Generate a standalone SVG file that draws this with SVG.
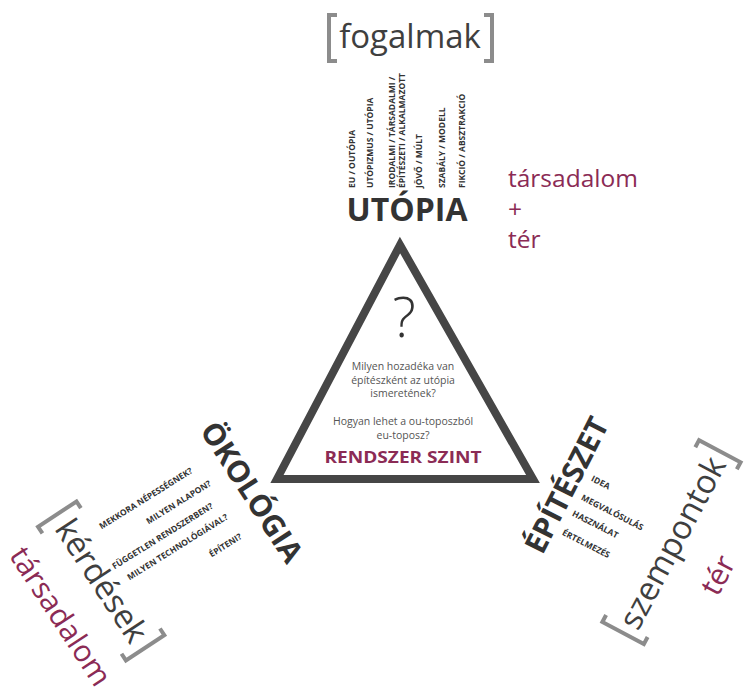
<svg xmlns="http://www.w3.org/2000/svg" width="750" height="692" viewBox="0 0 750 692">
<style>
text{font-family:"Open Sans","Liberation Sans",sans-serif;}
.big{font-size:33px;fill:#3f3f3f;}
.head{font-weight:bold;fill:#333;}
.small{font-size:8.5px;font-weight:bold;fill:#333;}
.maroon{fill:#8b2b55;}
.br{fill:none;stroke:#8c8c8c;stroke-width:4;}
.tri{fill:#fff;stroke:#464646;stroke-width:8;stroke-linejoin:miter;}
.q{font-size:10.5px;fill:#555;text-anchor:middle;}
</style>
<rect width="750" height="692" fill="#fff"/>
<g id="connectors"/>
<g id="triangle">
<polygon class="tri" points="400,245 533,479 277,479"/>
<text x="404" y="337" text-anchor="middle" style="font-size:55px;font-weight:300;fill:#333">?</text>
<text class="q" x="403" y="370">Milyen hozadéka van</text>
<text class="q" x="403" y="383.5">építészként az utópia</text>
<text class="q" x="403" y="397">ismeretének?</text>
<text class="q" x="403" y="425">Hogyan lehet a ou-toposzból</text>
<text class="q" x="403" y="438.5">eu-toposz?</text>
<text x="403" y="463" text-anchor="middle" class="maroon" style="font-size:16px;font-weight:bold" textLength="157" lengthAdjust="spacingAndGlyphs">RENDSZER SZINT</text>
</g>
<g id="utopia">
<text class="head" x="407" y="221" text-anchor="middle" style="font-size:32px">UTÓPIA</text>
<text class="small" transform="translate(355,188) rotate(-90)">EU / OUTÓPIA</text>
<text class="small" transform="translate(373,188) rotate(-90)">UTÓPIZMUS / UTÓPIA</text>
<text class="small" transform="translate(395,188) rotate(-90)">IRODALMI / TÁRSADALMI /</text>
<text class="small" transform="translate(405,188) rotate(-90)">ÉPÍTÉSZETI / ALKALMAZOTT</text>
<text class="small" transform="translate(422,188) rotate(-90)">JÖVŐ / MÚLT</text>
<text class="small" transform="translate(445,188) rotate(-90)">SZABÁLY / MODELL</text>
<text class="small" transform="translate(465,188) rotate(-90)">FIKCIÓ / ABSZTRAKCIÓ</text>
</g>
<g id="fogalmak" transform="translate(410,48)">
<text class="big" x="0" y="0" text-anchor="middle">fogalmak</text>
<path class="br" d="M-73,-33 H-81 V13 H-73"/>
<path class="br" d="M74,-33 H82 V13 H74"/>
</g>
<g id="tarsadalom-ter">
<text class="maroon" x="508" y="187" style="font-size:24.5px">társadalom</text>
<text class="maroon" x="508" y="218" style="font-size:24.5px">+</text>
<text class="maroon" x="508" y="248" style="font-size:24.5px">tér</text>
</g>
<g id="okologia">
<text class="head" transform="translate(243,498) rotate(57)" text-anchor="middle" style="font-size:30px">ÖKOLÓGIA</text>
<text class="small" transform="translate(101.6,529.5) rotate(-32)">MEKKORA NÉPESSÉGNEK?</text>
<text class="small" transform="translate(148.6,524.5) rotate(-32)">MILYEN ALAPON?</text>
<text class="small" transform="translate(114.6,569.5) rotate(-32)">FÜGGETLEN RENDSZERBEN?</text>
<text class="small" transform="translate(129.6,580.5) rotate(-32)">MILYEN TECHNOLÓGIÁVAL?</text>
<text class="small" transform="translate(211.6,557.5) rotate(-32)">ÉPÍTENI?</text>
</g>
<g id="kerdesek" transform="translate(92,587) rotate(56.7)">
<text class="big" x="0" y="0" text-anchor="middle">kérdések</text>
<path class="br" d="M-72,-34 H-80 V12 H-72"/>
<path class="br" d="M72,-34 H80 V12 H72"/>
</g>
<g id="tarsadalom-left">
<text class="maroon" transform="translate(52,622) rotate(56.8)" text-anchor="middle" style="font-size:30px">társadalom</text>
</g>
<g id="epiteszet">
<text class="head" transform="translate(576,490) rotate(-63)" text-anchor="middle" style="font-size:30px">ÉPÍTÉSZET</text>
<text class="small" transform="translate(590.6,480.6) rotate(27)">IDEA</text>
<text class="small" transform="translate(580.6,499.6) rotate(27)">MEGVALÓSULÁS</text>
<text class="small" transform="translate(571.6,515.6) rotate(27)">HASZNÁLAT</text>
<text class="small" transform="translate(561.6,534.6) rotate(27)">ÉRTELMEZÉS</text>
</g>
<g id="szempontok" transform="translate(682.5,548) rotate(-62)">
<text class="big" x="0" y="0" text-anchor="middle">szempontok</text>
<path class="br" d="M-95,-36 H-103 V11 H-95"/>
<path class="br" d="M95,-36 H103 V11 H95"/>
</g>
<g id="ter-right">
<text class="maroon" transform="translate(727,580) rotate(-62)" text-anchor="middle" style="font-size:30px">tér</text>
</g>
</svg>
